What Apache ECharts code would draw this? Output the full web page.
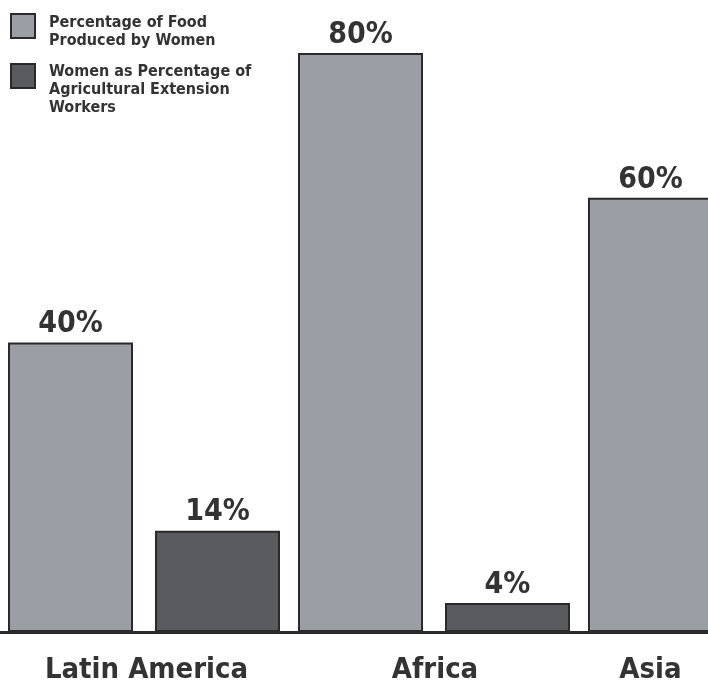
<!DOCTYPE html>
<html>
<head>
<meta charset="utf-8">
<script src="https://cdn.jsdelivr.net/npm/echarts@6/dist/echarts.min.js"></script>
<style>
html,body{margin:0;padding:0;background:#ffffff;}
#chart{width:708px;height:684px;}
</style>
</head>
<body>
<div id="chart"></div>
<script>
// ---- data ----
const categories = ['Latin America', 'Africa', 'Asia'];
const seriesNames = ['Percentage of Food Produced by Women', 'Women as Percentage of Agricultural Extension Workers'];
const legendLines = [
  ['Percentage of Food', 'Produced by Women'],
  ['Women as Percentage of', 'Agricultural Extension', 'Workers']
];
const foodProduced = [40, 80, 60];
const extensionWorkers = [14, 4, null]; // Asia value lies outside the visible frame

const FONT = "'DejaVu Sans Condensed', 'Liberation Sans Narrow', sans-serif";
const TEXT = '#333333';
const LIGHT = '#9b9ea4';
const DARK = '#5a5b5f';
const EDGE = '#2a2a2a';

const chart = echarts.init(document.getElementById('chart'), null, {renderer: 'canvas'});

function legendCfg(i, top, spacer) {
  return {
    data: [seriesNames[i]],
    left: 10,
    top: top,
    padding: 0,
    orient: 'vertical',
    icon: 'rect',
    itemWidth: 24,
    itemHeight: 24,
    selectedMode: false,
    formatter: function () {
      return '{s|}\n' + legendLines[i].map(function (l) { return '{t|' + l + '}'; }).join('\n');
    },
    itemStyle: {borderColor: EDGE, borderWidth: 2},
    textStyle: {
      fontFamily: FONT, fontWeight: 'bold', fontSize: 16, color: TEXT,
      rich: {
        s: {fontSize: 1, lineHeight: spacer, height: spacer},
        t: {fontFamily: FONT, fontWeight: 'bold', fontSize: 16, lineHeight: 18, color: TEXT, padding: [0, 0, 0, 9]}
      }
    }
  };
}

const option = {
  backgroundColor: '#ffffff',
  animation: false,
  legend: [legendCfg(0, 2, 12), legendCfg(1, 35, 28)],
  grid: {left: -1, width: 870, top: 53, bottom: 52, containLabel: false, outerBoundsMode: 'none'},
  xAxis: {
    type: 'category',
    data: categories,
    axisLine: {show: true, lineStyle: {color: EDGE, width: 3}},
    axisTick: {show: false},
    axisLabel: {
      interval: 0,
      margin: 24,
      fontFamily: FONT, fontWeight: 'bold', fontSize: 29, color: TEXT,
      formatter: function (v, idx) { return '{c' + idx + '|' + v + '}'; },
      rich: {
        c0: {fontFamily: FONT, fontWeight: 'bold', fontSize: 29, color: TEXT, padding: [0, 0, 0, 5]},
        c1: {fontFamily: FONT, fontWeight: 'bold', fontSize: 29, color: TEXT, padding: [0, 0, 0, 2]},
        c2: {fontFamily: FONT, fontWeight: 'bold', fontSize: 29, color: TEXT, padding: [0, 147, 0, 0]}
      }
    }
  },
  yAxis: {
    type: 'value', min: 0, max: 80,
    show: false,
    splitLine: {show: false}
  },
  series: [
    {
      name: seriesNames[0], type: 'bar', data: foodProduced,
      barWidth: 125, barGap: '17.6%',
      itemStyle: {color: LIGHT, borderColor: EDGE, borderWidth: 2},
      label: {show: true, position: 'top', distance: 3, formatter: '{c}%',
        fontFamily: FONT, fontWeight: 'bold', fontSize: 30, color: TEXT}
    },
    {
      name: seriesNames[1], type: 'bar', data: extensionWorkers,
      barWidth: 125, barGap: '17.6%',
      itemStyle: {color: DARK, borderColor: EDGE, borderWidth: 2},
      label: {show: true, position: 'top', distance: 3, formatter: '{c}%',
        fontFamily: FONT, fontWeight: 'bold', fontSize: 30, color: TEXT}
    }
  ]
};
chart.setOption(option);
</script>
</body>
</html>
